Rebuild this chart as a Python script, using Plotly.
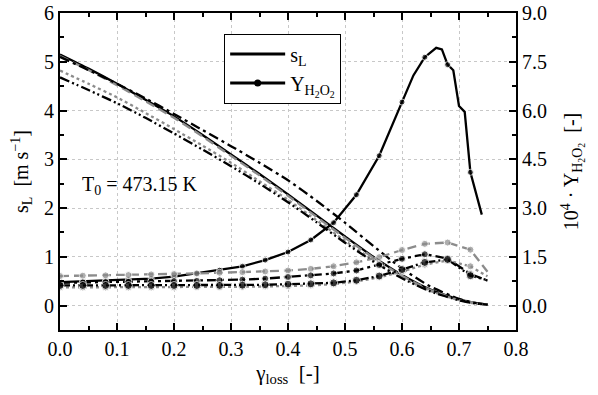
import plotly.graph_objects as go

# ---------------- data ----------------
gamma_sl = [0, 0.05, 0.10, 0.15, 0.20, 0.25, 0.30, 0.35, 0.40, 0.45, 0.50, 0.55, 0.60, 0.65, 0.70, 0.725, 0.75]
sl_solid   = [5.15, 4.86, 4.55, 4.22, 3.88, 3.50, 3.10, 2.70, 2.28, 1.85, 1.42, 1.00, 0.63, 0.33, 0.13, 0.06, 0.02]
sl_dash    = [5.12, 4.83, 4.52, 4.19, 3.85, 3.47, 3.07, 2.67, 2.25, 1.82, 1.39, 0.98, 0.61, 0.32, 0.12, 0.06, 0.02]
sl_dashdot = [5.10, 4.83, 4.55, 4.25, 3.93, 3.60, 3.27, 2.93, 2.57, 2.15, 1.70, 1.22, 0.76, 0.39, 0.14, 0.06, 0.02]
sl_dot     = [4.82, 4.55, 4.27, 3.95, 3.62, 3.28, 2.93, 2.55, 2.17, 1.75, 1.33, 0.93, 0.58, 0.30, 0.11, 0.05, 0.02]
sl_dashdd  = [4.68, 4.42, 4.15, 3.85, 3.53, 3.20, 2.86, 2.50, 2.12, 1.71, 1.29, 0.90, 0.56, 0.29, 0.11, 0.05, 0.02]

gamma_y_solid = [0, 0.04, 0.08, 0.12, 0.16, 0.20, 0.24, 0.28, 0.32, 0.36, 0.40, 0.44, 0.48, 0.52, 0.56,
                 0.60, 0.62, 0.64, 0.66, 0.67, 0.68, 0.69, 0.70, 0.71, 0.72, 0.74]
y_solid = [0.72, 0.75, 0.77, 0.80, 0.83, 0.89, 0.99, 1.09, 1.21, 1.40, 1.65, 2.02, 2.55, 3.41, 4.61,
           6.26, 7.08, 7.64, 7.93, 7.88, 7.41, 7.24, 6.14, 5.96, 4.10, 2.80]

gamma_y = [0, 0.04, 0.08, 0.12, 0.16, 0.20, 0.24, 0.28, 0.32, 0.36, 0.40, 0.44, 0.48, 0.52, 0.56,
           0.60, 0.64, 0.68, 0.72, 0.75]
y_dash    = [0.91, 0.92, 0.93, 0.94, 0.96, 0.97, 0.99, 1.01, 1.03, 1.05, 1.08, 1.13, 1.21, 1.33, 1.49, 1.71, 1.90, 1.94, 1.72, 1.04]
y_dashdot = [0.70, 0.71, 0.72, 0.73, 0.74, 0.75, 0.76, 0.78, 0.80, 0.83, 0.88, 0.93, 0.99, 1.08, 1.25, 1.44, 1.58, 1.45, 0.97, 0.77]
y_dot     = [0.56, 0.56, 0.56, 0.56, 0.56, 0.56, 0.57, 0.57, 0.58, 0.59, 0.60, 0.62, 0.66, 0.74, 0.87, 1.05, 1.26, 1.39, 1.21, 0.90]
y_dashdd  = [0.62, 0.62, 0.62, 0.62, 0.62, 0.62, 0.62, 0.62, 0.63, 0.64, 0.66, 0.67, 0.70, 0.78, 0.91, 1.11, 1.33, 1.42, 0.92, 0.78]

x_ticks = [0.0, 0.1, 0.2, 0.3, 0.4, 0.5, 0.6, 0.7, 0.8]
y_left_ticks = [0, 1, 2, 3, 4, 5, 6]
y_right_ticks = [0.0, 1.5, 3.0, 4.5, 6.0, 7.5, 9.0]

# ---------------- styling ----------------
FONT = "Liberation Serif"
GRAY = "#8c8c8c"
DASHDD = "10px,3px,2px,3px,2px,3px"
DASHDOT = "10px,4px,3px,4px"


def marker_sizes(xs, size):
    out = []
    for v in xs:
        k = v / 0.04
        out.append(size if abs(k - round(k)) < 1e-6 else 0)
    return out


fig = go.Figure()

sl_series = [
    (sl_solid, "black", "solid"),
    (sl_dash, GRAY, "9px,5px"),
    (sl_dashdot, "black", DASHDOT),
    (sl_dot, GRAY, "3px,3px"),
    (sl_dashdd, "black", DASHDD),
]
for vals, col, dash in sl_series:
    fig.add_trace(go.Scatter(x=gamma_sl, y=vals, mode="lines", showlegend=False,
                             line=dict(color=col, width=2.3, dash=dash, shape="spline", smoothing=0.6),
                             yaxis="y"))

fig.add_trace(go.Scatter(x=gamma_y_solid, y=y_solid, mode="lines+markers", showlegend=False,
                         line=dict(color="black", width=2.3),
                         marker=dict(color="black", size=marker_sizes(gamma_y_solid, 6)),
                         yaxis="y2"))

y_series = [
    (y_dash, GRAY, "9px,5px", 7),
    (y_dashdot, "black", DASHDOT, 7),
    (y_dot, GRAY, "3px,3px", 7),
    (y_dashdd, "black", DASHDD, 8),
]
for vals, col, dash, ms in y_series:
    sizes = marker_sizes(gamma_y, ms)
    sizes[-1] = 0
    fig.add_trace(go.Scatter(x=gamma_y, y=vals, mode="lines+markers", showlegend=False,
                             line=dict(color=col, width=2.3, dash=dash),
                             marker=dict(color=col, size=sizes),
                             yaxis="y2"))

# legend entries
fig.add_trace(go.Scatter(x=[None], y=[None], mode="lines", name="s<sub>L</sub>",
                         line=dict(color="black", width=3)))
fig.add_trace(go.Scatter(x=[None], y=[None], mode="lines+markers",
                         name="Y<sub>H<sub>2</sub>O<sub>2</sub></sub>",
                         line=dict(color="black", width=3), marker=dict(color="black", size=7)))

tickfont = dict(family=FONT, size=20, color="black")
common = dict(showline=True, linecolor="black", linewidth=2, ticks="inside", ticklen=7,
              tickwidth=1.5, tickcolor="black", tickfont=tickfont, zeroline=False, automargin=False)

fig.update_layout(
    width=598, height=395,
    margin=dict(l=60, r=82, t=13, b=65, autoexpand=False),
    paper_bgcolor="white", plot_bgcolor="white",
    font=dict(family=FONT, size=20, color="black"),
    xaxis=dict(range=[0, 0.8], tickvals=x_ticks, tickformat=".1f", mirror="ticks",
               showgrid=True, gridcolor="#c8c8c8", griddash="dot", gridwidth=1,
               minor=dict(ticks="inside", dtick=0.05, ticklen=4, tickwidth=1.5, tickcolor="black", showgrid=False),
               title=dict(text="γ<sub>loss</sub>  [-]", font=dict(family=FONT, size=21), standoff=6),
               **common),
    yaxis=dict(range=[-0.5, 6], tickvals=y_left_ticks, side="left",
               showgrid=True, gridcolor="#c8c8c8", griddash="dot", gridwidth=1,
               minor=dict(ticks="inside", dtick=0.5, ticklen=4, tickwidth=1.5, tickcolor="black", showgrid=False),
               title=dict(text="s<sub>L</sub>  [m s<sup>−1</sup>]", font=dict(family=FONT, size=20), standoff=10),
               **common),
    yaxis2=dict(range=[-0.75, 9.0], tickvals=y_right_ticks, tickformat=".1f", side="right",
                overlaying="y", showgrid=False,
                minor=dict(ticks="inside", dtick=0.75, ticklen=4, tickwidth=1.5, tickcolor="black", showgrid=False),
                title=dict(text="10<sup>4</sup> · Y<sub>H<sub>2</sub>O<sub>2</sub></sub>  [-]",
                           font=dict(family=FONT, size=20), standoff=18),
                **common),
    legend=dict(x=0.36, y=0.935, xanchor="left", yanchor="top", bgcolor="white",
                bordercolor="black", borderwidth=1, font=dict(family=FONT, size=20),
                tracegroupgap=0, itemwidth=55),
    showlegend=True,
)

fig.add_annotation(x=0.035, y=2.47, xref="x", yref="y", xanchor="left", yanchor="middle",
                   text="T<sub>0</sub> = 473.15 K", showarrow=False,
                   font=dict(family=FONT, size=20, color="black"))

fig.write_html("out.html", post_script="document.body.style.margin='0';",
               config={"displayModeBar": False})
